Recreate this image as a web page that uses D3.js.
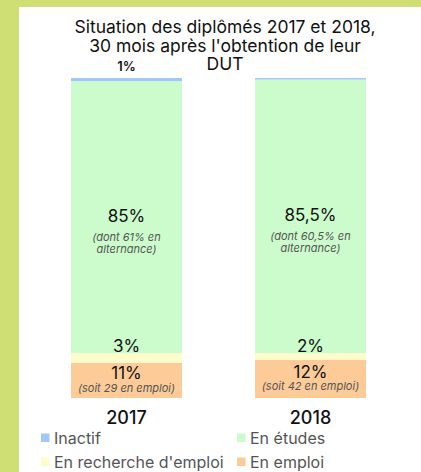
<!DOCTYPE html>
<html lang="fr">
    <head>
        <meta charset="utf-8">
        <title>diplomes_dut</title>
        <script type="text/javascript" src="https://cdn.jsdelivr.net/npm/d3@7"></script>
        <style>
            body { margin: 0; background: #ffffff; }
            text { font-family: "Inter", "Open Sans", sans-serif; }
        </style>
    </head>

    <body>
        <script type="text/javascript">
        var w = 421;
        var h = 472;

        // Data
        var years = ["2017", "2018"];
        var categories = ["En emploi", "En recherche d'emploi", "En études", "Inactif"];
        var emploi    = [11, 12];
        var recherche = [3, 2];
        var etudes    = [85, 85.5];
        var inactif   = [1, 0.5];
        var labelsEmploi    = ["11%", "12%"];
        var labelsRecherche = ["3%", "2%"];
        var labelsEtudes    = ["85%", "85,5%"];
        var labelsInactif   = ["1%", ""];
        var notesEmploi = [["(soit 29 en emploi)"], ["(soit 42 en emploi)"]];
        var notesEtudes = [["(dont 61% en", "alternance)"], ["(dont 60,5% en", "alternance)"]];
        var legendOrder = ["Inactif", "En études", "En recherche d'emploi", "En emploi"];

        var colors = {
            "Inactif": "#a4c8f6",
            "En études": "#ccfccc",
            "En recherche d'emploi": "#fffccc",
            "En emploi": "#fccb98"
        };

        var series = [emploi, recherche, etudes, inactif];
        var labels = [labelsEmploi, labelsRecherche, labelsEtudes, labelsInactif];
        var notes = [notesEmploi, null, notesEtudes, null];

        var rows = years.map(function(y, i){
            var r = {year: y};
            categories.forEach(function(c, k){ r[c] = series[k][i]; });
            return r;
        });
        var stacked = d3.stack().keys(categories)(rows);

        // Scales
        var xScale = d3.scaleBand()
                        .domain(years)
                        .range([34.2, 402.8])
                        .paddingInner(0.397)
                        .paddingOuter(0.2);
        var yScale = d3.scaleLinear()
                        .domain([0, 100])
                        .range([398, 78]);

        var svg = d3.select("body")
                    .append("svg")
                    .attr("width", w)
                    .attr("height", h);

        // frame
        svg.append("rect").attr("width", w).attr("height", h).attr("fill", "#d0df74");
        svg.append("rect").attr("x", 19).attr("y", 7).attr("width", w - 19).attr("height", h - 7).attr("fill", "#ffffff");

        // title
        var title = ["Situation des diplômés 2017 et 2018,", "30 mois après l'obtention de leur", "DUT"];
        svg.append("g").selectAll("text")
            .data(title)
            .enter()
            .append("text")
            .attr("x", 225)
            .attr("y", function(d, i){ return 33 + i * 18.5; })
            .attr("text-anchor", "middle")
            .attr("font-size", "17.5px")
            .attr("fill", "#111")
            .text(function(d){ return d; });

        // bars
        var layers = svg.append("g").selectAll("g")
            .data(stacked)
            .enter()
            .append("g")
            .attr("fill", function(d){ return colors[d.key]; });

        layers.selectAll("rect")
            .data(function(d){ return d; })
            .enter()
            .append("rect")
            .attr("x", function(d){ return xScale(d.data.year); })
            .attr("y", function(d){ return yScale(d[1]); })
            .attr("width", xScale.bandwidth())
            .attr("height", function(d){ return yScale(d[0]) - yScale(d[1]); });

        // value labels
        var lab = svg.append("g").attr("text-anchor", "middle");
        stacked.forEach(function(layer, k){
            layer.forEach(function(d, i){
                var txt = labels[k][i];
                if (!txt) return;
                var cx = xScale(d.data.year) + xScale.bandwidth() / 2;
                var top = yScale(d[1]);
                var mid = (yScale(d[0]) + top) / 2;
                var sub = notes[k] ? notes[k][i] : [];
                var base;
                if (d[1] - d[0] < 5) {
                    base = top - 1 - (k === 3 ? 6 : 0);
                } else {
                    base = sub.length === 2 ? mid + 5 : mid - 1;
                }
                lab.append("text")
                    .attr("x", cx)
                    .attr("y", base)
                    .attr("font-size", k === 3 ? "13px" : "17px")
                    .attr("font-weight", k === 3 ? 600 : 400)
                    .attr("fill", "#111")
                    .text(txt);
                sub.forEach(function(s, j){
                    lab.append("text")
                        .attr("x", cx)
                        .attr("y", base + (sub.length === 2 ? 19 : 12.5) + j * 12)
                        .attr("font-size", "11px")
                        .attr("font-style", "italic")
                        .attr("fill", "#555")
                        .text(s);
                });
            });
        });

        // x axis labels
        svg.append("g").selectAll("text")
            .data(years)
            .enter()
            .append("text")
            .attr("x", function(d){ return xScale(d) + xScale.bandwidth() / 2; })
            .attr("y", 424)
            .attr("text-anchor", "middle")
            .attr("font-size", "18px")
            .attr("font-weight", 500)
            .attr("fill", "#111")
            .text(function(d){ return d; });

        // legend
        var leg = svg.append("g").selectAll("g")
            .data(legendOrder)
            .enter()
            .append("g")
            .attr("transform", function(d, i){
                return "translate(" + (i % 2 ? 237 : 41) + "," + (438 + Math.floor(i / 2) * 24) + ")";
            });
        leg.append("rect")
            .attr("y", -4.5)
            .attr("width", 8.5)
            .attr("height", 8.5)
            .attr("fill", function(d){ return colors[d]; });
        leg.append("text")
            .attr("x", 13)
            .attr("y", 5.5)
            .attr("font-size", "16px")
            .attr("fill", "#555")
            .text(function(d){ return d; });
        </script>
    </body>
</html>
